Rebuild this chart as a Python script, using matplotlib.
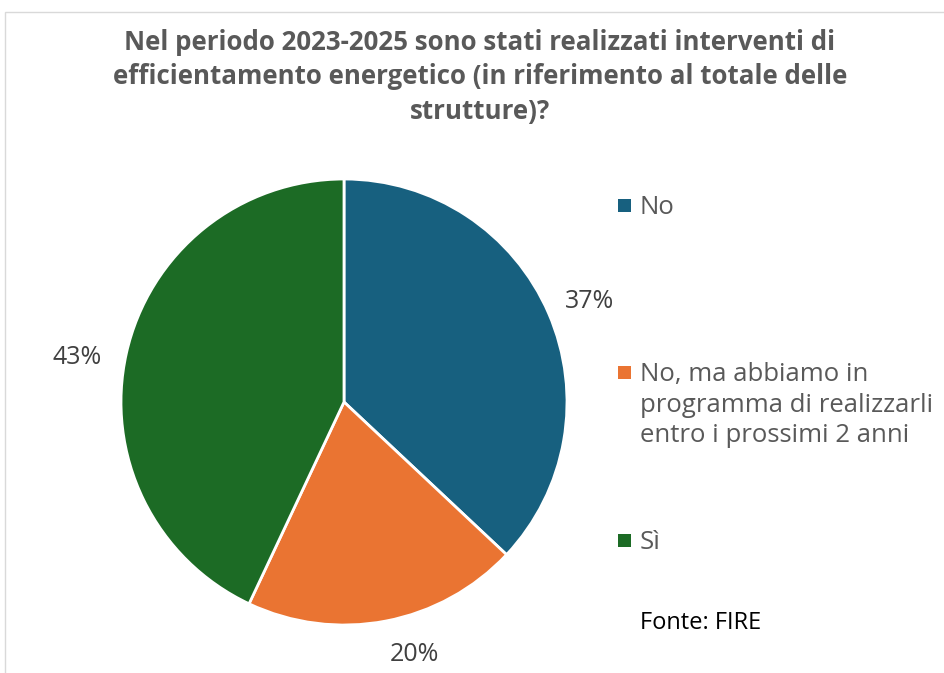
import matplotlib
matplotlib.use("Agg")
import matplotlib.pyplot as plt
from matplotlib.patches import Rectangle

title = ("Nel periodo 2023-2025 sono stati realizzati interventi di\n"
         "efficientamento energetico (in riferimento al totale delle\n"
         "strutture)?")
labels = ["No", "No, ma abbiamo in\nprogramma di realizzarli\nentro i prossimi 2 anni", "Sì"]
values = [37, 20, 43]
colors = ["#17607f", "#ea7432", "#1c6b25"]

fig = plt.figure(figsize=(9.44, 6.73), dpi=100)
fig.patch.set_facecolor("white")

# thin frame like the exported chart area
fig.patches.append(Rectangle((5 / 944, -0.01), 1.02, 1 - 12 / 673 + 0.01, transform=fig.transFigure,
                             fill=False, edgecolor="#d9d9d9", linewidth=1))

fig.text(480 / 944, 1 - 77 / 673, title, ha="center", va="center", fontsize=18.6, fontweight="bold",
         color="#595959", family="Open Sans", linespacing=1.36)

ax = fig.add_axes([121 / 944, 48 / 673, 446 / 944, 446 / 673])
wedges, texts, autotexts = ax.pie(values, colors=colors, startangle=90, counterclock=False,
                                  autopct="%d%%", pctdistance=1.2,
                                  wedgeprops=dict(edgecolor="white", linewidth=2))
# small nudges so the labels sit where Excel's best fit put them
nudges = [(0.0, -0.027), (0.09, 0.045), (-0.027, -0.063)]
for t, (dx, dy) in zip(autotexts, nudges):
    x, y = t.get_position()
    t.set_position((x + dx, y + dy))
    t.set_fontsize(18)
    t.set_color("#404040")
    t.set_family("Open Sans")
ax.set_xlim(-1, 1)
ax.set_ylim(-1, 1)
ax.set_aspect("equal")

# legend drawn by hand to follow the uneven vertical spacing
leg_y = [205, 372, 540]
for lab, col, y in zip(labels, colors, leg_y):
    fig.patches.append(Rectangle((618 / 944, 1 - (y + 7) / 673), 13 / 944, 13 / 673,
                                 transform=fig.transFigure, facecolor=col, edgecolor="none"))
    fig.text(640 / 944, 1 - (y - 10) / 673, lab, ha="left", va="top", fontsize=18.5,
             color="#595959", family="Open Sans", linespacing=1.3)

fig.text(640 / 944, 1 - 623 / 673, "Fonte: FIRE", ha="left", va="center", fontsize=17,
         color="black", family="Open Sans")

fig.savefig("out.png", dpi=100)
